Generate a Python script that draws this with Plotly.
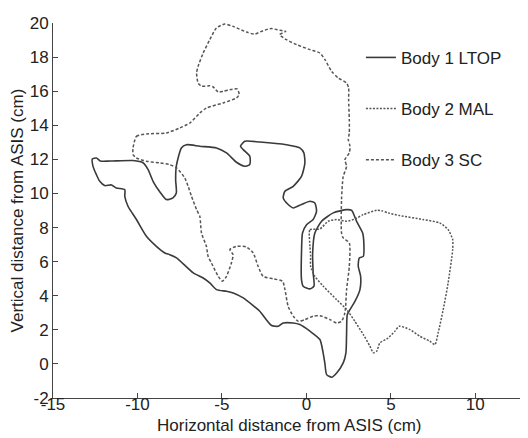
import plotly.graph_objects as go

# Body 1 LTOP (solid outline)
ltop_x = [-12.67,-12.43,-12.2,-11.6,-10.26,-9.67,-9.37,-9.07,-8.68,-8.29,-7.9,-7.7,-7.74,-7.7,-7.4,-7.1,-6.31,-5.32,-4.73,-4.14,-3.65,-3.35,-3.35,-3.74,-3.9,-3.65,-2.76,-1.18,-0.39,-0.15,-0.09,-0.29,-0.78,-1.27,-1.37,-1.08,-0.78,-0.29,0.21,0.5,0.6,0.4,0.01,-0.23,-0.29,-0.29,-0.19,0.21,0.45,0.4,0.37,0.5,0.9,1.59,2.38,2.68,2.97,3.33,3.4,3.37,3.13,3.07,3.21,3.17,2.88,2.58,2.42,2.38,2.34,2.18,1.79,1.49,1.2,1.09,0.99,0.8,0.21,-0.39,-0.78,-1.37,-1.67,-2.06,-2.76,-3.15,-3.74,-4.33,-4.73,-5.32,-5.72,-6.11,-6.7,-7.69,-8.09,-8.38,-8.88,-9.47,-10.06,-10.56,-10.75,-10.75,-11.25,-11.54,-11.94,-12.23,-12.43,-12.63,-12.67]
ltop_y = [12.02,12.08,11.9,11.9,11.93,11.8,11.4,10.7,10.1,9.64,9.74,10.03,10.81,11.6,12.67,12.86,12.77,12.67,12.38,11.83,11.6,11.7,12.18,12.57,12.77,13.06,13.02,12.86,12.67,12.38,11.79,11.0,10.42,10.13,9.74,9.35,9.15,9.35,9.54,9.44,8.95,8.47,8.17,7.68,6.51,4.95,4.56,4.4,4.56,5.34,6.51,7.68,8.37,8.86,9.05,9.01,8.37,7.68,7.1,6.31,6.22,5.73,5.14,4.36,3.68,3.19,2.89,1.82,0.65,0.06,-0.53,-0.78,-0.63,0.06,0.65,1.43,1.92,2.31,2.4,2.4,2.21,2.25,3.09,3.42,3.87,4.16,4.26,4.36,4.75,5.04,5.34,6.22,6.41,6.51,6.9,7.49,8.47,9.25,9.83,10.22,10.32,10.5,10.46,10.71,11.1,11.59,12.02]

# Body 2 MAL (dotted outline)
mal_x = [0.17,0.21,0.8,1.29,1.79,2.38,2.87,3.37,4.16,4.45,4.84,5.53,6.9,7.89,8.39,8.66,8.66,8.39,8.1,7.8,7.61,7.31,6.72,6.13,5.5,5.24,4.84,4.35,4.16,3.96,3.76,3.37,2.87,2.38,1.79,1.0,0.5,0.25,0.25,0.21,0.17]
mal_y = [7.68,7.88,7.92,8.37,8.47,8.37,8.5,8.76,9.01,8.99,8.86,8.7,8.47,8.27,7.88,7.29,6.71,4.75,3.19,1.82,1.13,1.33,1.62,2.01,2.21,1.92,1.52,1.23,0.74,0.65,1.04,1.72,2.5,3.19,3.77,4.56,5.14,5.73,6.31,6.9,7.68]

# Body 3 SC (dashed outline)
sc_x = [-10.26,-10.06,-9.47,-8.29,-7.5,-6.9,-6.31,-5.92,-4.93,-4.14,-3.98,-4.1,-4.53,-4.93,-5.22,-5.52,-5.72,-6.21,-6.41,-6.5,-6.41,-6.11,-5.72,-5.32,-4.83,-4.34,-3.55,-3.06,-2.56,-2.07,-1.58,-1.22,-1.58,-1.18,-0.58,0.21,0.8,1.1,1.49,1.89,2.38,2.5,2.5,2.54,2.54,2.48,2.58,2.54,2.28,2.38,2.18,2.08,2.08,2.18,2.54,2.54,2.38,2.28,2.08,1.79,1.39,0.8,0.4,-0.09,-0.48,-0.78,-1.08,-1.27,-1.41,-1.96,-2.56,-2.86,-3.15,-3.55,-4.14,-4.53,-4.34,-4.44,-4.73,-4.97,-5.22,-5.62,-5.82,-5.92,-6.21,-6.31,-6.5,-6.8,-7.0,-7.2,-7.69,-8.09,-8.68,-9.47,-10.06,-10.26,-10.26]
sc_y = [12.67,13.35,13.49,13.55,13.84,14.13,14.72,15.01,15.31,15.6,15.8,16.13,16.09,15.99,15.95,16.25,16.32,16.29,16.48,17.07,17.46,18.24,19.02,19.71,19.94,19.8,19.47,19.35,19.55,19.67,19.57,19.51,19.32,19.02,18.73,18.44,18.24,17.85,17.17,16.77,16.48,16.19,15.5,14.33,13.55,13.16,12.77,12.38,11.98,11.59,11.0,9.64,7.68,7.39,7.1,5.73,4.36,2.99,2.5,2.4,2.6,2.83,2.8,2.6,2.5,2.8,3.38,4.36,4.85,4.99,5.14,5.73,6.51,6.86,6.9,6.71,6.41,5.92,5.14,4.85,5.14,5.92,6.31,6.9,7.68,8.66,9.05,9.83,10.42,10.91,11.5,11.69,11.79,11.89,12.08,12.28,12.67]

x_tickvals = [-15, -10, -5, 0, 5, 10]
x_ticktext = ["-15", "-10", "-5", "0", "5", "10"]
y_tickvals = [-2, 0, 2, 4, 6, 8, 10, 12, 14, 16, 18, 20]
y_ticktext = ["-2", "0", "2", "4", "6", "8", "10", "12", "14", "16", "18", "20"]
x_title = "Horizontal distance from ASIS (cm)"
y_title = "Vertical distance from ASIS (cm)"

FONT = "Liberation Sans, Arial, sans-serif"

fig = go.Figure()
fig.add_trace(go.Scatter(x=ltop_x, y=ltop_y, mode="lines", name="Body 1 LTOP",
                         legendgroup="a",
                         line=dict(color="#3a3a3a", width=1.6, shape="spline", smoothing=0.6)))
fig.add_trace(go.Scatter(x=mal_x, y=mal_y, mode="lines", name="Body 2 MAL",
                         legendgroup="b",
                         line=dict(color="#555555", width=1.5, dash="2px,1.5px", shape="spline", smoothing=0.6)))
fig.add_trace(go.Scatter(x=sc_x, y=sc_y, mode="lines", name="Body 3 SC",
                         legendgroup="c",
                         line=dict(color="#555555", width=1.5, dash="3px,2px", shape="spline", smoothing=0.6)))

# the page body adds an 8px offset, so the figure is 8px smaller
fig.update_layout(
    width=520, height=430,
    margin=dict(l=45, r=2, t=15, b=40, autoexpand=False),
    paper_bgcolor="white", plot_bgcolor="white",
    font=dict(family=FONT, size=17, color="#222222"),
    legend=dict(x=0.651, y=0.955, xanchor="left", yanchor="top",
                bgcolor="rgba(0,0,0,0)", borderwidth=0,
                tracegroupgap=26, font=dict(size=17)),
    showlegend=True,
    annotations=[
        dict(text=x_title, xref="paper", yref="paper", x=0.501, y=-0.072,
             xanchor="center", yanchor="middle", showarrow=False,
             font=dict(size=17)),
        dict(text=y_title, xref="paper", yref="paper", x=-0.075, y=0.499,
             xanchor="center", yanchor="middle", showarrow=False, textangle=-90,
             font=dict(size=17)),
    ],
)
fig.update_xaxes(range=[-15, 13], tickvals=x_tickvals, ticktext=x_ticktext,
                 ticks="inside", ticklen=5, tickcolor="#444", showline=True,
                 linecolor="#444", linewidth=1, showgrid=False, zeroline=False,
                 automargin=False, ticklabelstandoff=-9,
                 tickfont=dict(size=17))
fig.update_yaxes(range=[-2, 20], tickvals=y_tickvals, ticktext=y_ticktext,
                 ticks="inside", ticklen=5, tickcolor="#444", showline=True,
                 linecolor="#444", linewidth=1, showgrid=False, zeroline=False,
                 automargin=False,
                 tickfont=dict(size=17))

fig.write_html("out.html")
